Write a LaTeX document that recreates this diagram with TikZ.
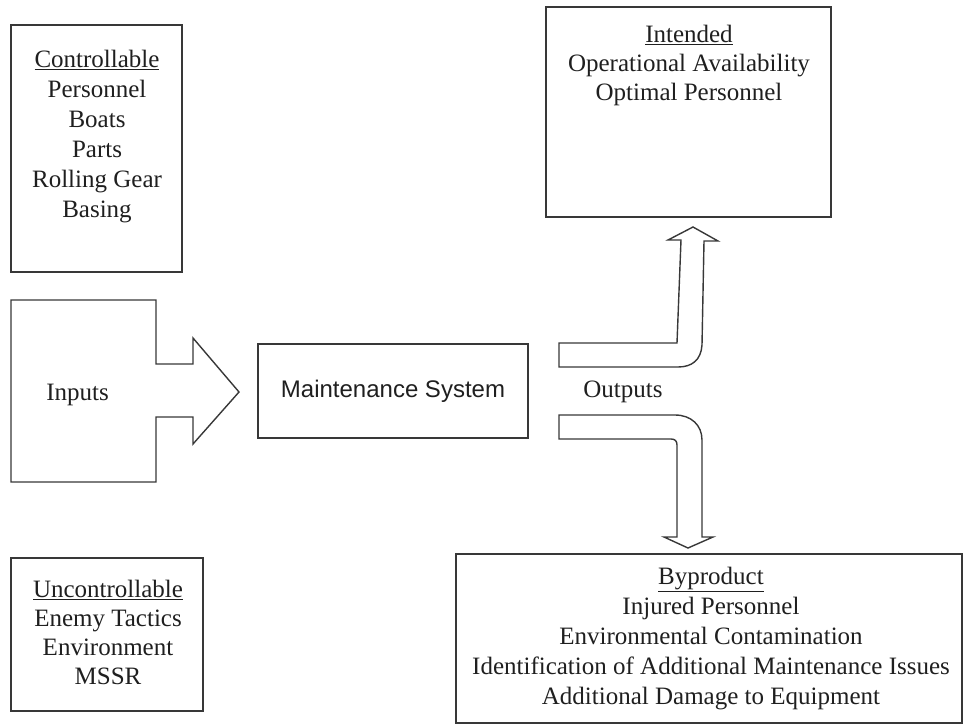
\documentclass[tikz,border=0pt]{standalone}
\usepackage{fontspec}
\setmainfont{Liberation Serif}
\newfontfamily\sysfont{Liberation Sans}
\begin{document}
\begin{tikzpicture}[x=1pt,y=-1pt,
  box/.style={draw=black!78, line width=1.4pt, inner sep=0pt, outer sep=0pt},
  shapeline/.style={draw=black!78, line width=1.4pt, line join=miter},
  txt/.style={inner sep=0pt, align=center, text=black!88, font=\fontsize{25}{30}\selectfont}]
\useasboundingbox (0,0) rectangle (964,726);
% boxes
\node[box, minimum width=171, minimum height=247] (ctrl) at (96.5,148.5) {};
\node[box, minimum width=192, minimum height=153] (unctrl) at (107,634.5) {};
\node[box, minimum width=270, minimum height=94, text=black!88, font=\sysfont\fontsize{24}{28}\selectfont] (sys) at (393,391) {Maintenance System};
\node[box, minimum width=285, minimum height=210] (intd) at (688.5,112) {};
\node[box, minimum width=506, minimum height=169] (byp) at (709,638.5) {};
% inputs arrow shape
\draw[shapeline] (11,300) -- (156,300) -- (156,364) -- (193,364) -- (193,338) -- (239,392) -- (193,444) -- (193,417) -- (156,417) -- (156,482) -- (11,482) -- cycle;
% output up arrow
\draw[shapeline] (559,343) -- (677,343) -- (681,240) -- (668,240) -- (693,227) -- (718,241) -- (704,241) -- (702,345) .. controls (701,360) and (692,367) .. (678,367) -- (559,367) -- cycle;
% output down arrow
\draw[shapeline] (559,415) -- (675,415) .. controls (691,415) and (702,425) .. (702,440) -- (702,537) -- (713,537) -- (688,548) -- (664,537) -- (677,537) -- (677,445) .. controls (677,441) and (675,439) .. (671,439) -- (559,439) -- cycle;
% texts
\node[txt, anchor=north] (ctrltxt) at (97,50) {\underline{Controllable}\\Personnel\\Boats\\Parts\\Rolling Gear\\Basing};
\node[txt, anchor=north, font=\fontsize{25}{29}\selectfont] (intdtxt) at (689,25) {\underline{Intended}\\Operational Availability\\Optimal Personnel};
\node[txt, anchor=north] (byptxt) at (711,567) {\underline{Byproduct}\\Injured Personnel\\Environmental Contamination\\Identification of Additional Maintenance Issues\\Additional Damage to Equipment};
\node[txt, anchor=north, font=\fontsize{25}{29}\selectfont] (unctrltxt) at (108,580) {\underline{Uncontrollable}\\Enemy Tactics\\Environment\\MSSR};
\node[txt, anchor=base] (intxt) at (77.5,400) {Inputs};
\node[txt, anchor=base] (outtxt) at (623,397) {Outputs};
\end{tikzpicture}
\end{document}
